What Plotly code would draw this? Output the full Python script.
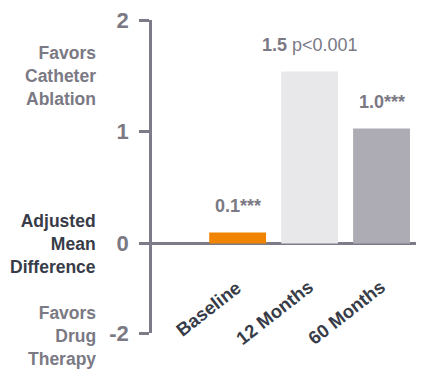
import plotly.graph_objects as go

categories = ["Baseline", "12 Months", "60 Months"]
values = [0.1, 1.54, 1.03]
value_labels = ["0.1", "1.5", "1.0"]
value_notes = ["***", " p<0.001", "***"]
note_bold = [True, False, True]
bar_colors = ["#f08300", "#e8e7ea", "#adacb4"]
tick_values = [2, 1, 0, -0.8]
tick_labels = ["2", "1", "0", "-2"]

GRAY = "#7a7984"
DARK = "#373c48"
FONT = "Liberation Sans, Arial, sans-serif"

xpos = list(range(len(categories)))

fig = go.Figure()
fig.add_trace(go.Bar(
    x=xpos, y=values, width=0.79,
    marker=dict(color=bar_colors, line=dict(width=0)),
    hoverinfo="skip",
))

annotations = []
for i, (v, lab, note, nb) in enumerate(zip(values, value_labels, value_notes, note_bold)):
    txt = f"<b>{lab}</b>" + (f"<b>{note}</b>" if nb else note)
    annotations.append(dict(
        x=i, y=v, xref="x", yref="y", text=txt, showarrow=False,
        yanchor="bottom", xanchor="center", yshift=14,
        font=dict(family=FONT, size=18, color=GRAY),
    ))

for i, cat in enumerate(categories):
    annotations.append(dict(
        x=i, y=0, xref="x", yref="y", text=f"<b>{cat}</b>", showarrow=False,
        textangle=-38, xanchor="right", yanchor="top", xshift=10, yshift=-30,
        font=dict(family=FONT, size=18.5, color=DARK),
    ))

side = [
    ("<b>Favors<br>Catheter<br>Ablation</b>", 1.5, 0, GRAY),
    ("<b>Adjusted<br>Mean<br>Difference</b>", 0, 0, DARK),
    ("<b>Favors<br>Drug<br>Therapy</b>", -0.8, -3, GRAY),
]
for txt, yv, ys, col in side:
    annotations.append(dict(
        x=0, xref="paper", y=yv, yref="y", text=txt, showarrow=False,
        xanchor="right", yanchor="middle", align="right", xshift=-54, yshift=ys,
        font=dict(family=FONT, size=17.5, color=col),
    ))

fig.update_layout(
    width=424, height=369,
    margin=dict(l=144, r=8, t=12, b=44, autoexpand=False),
    paper_bgcolor="white", plot_bgcolor="white",
    showlegend=False,
    annotations=annotations,
    xaxis=dict(range=[-1.19, 2.59], visible=False, fixedrange=True, automargin=False),
    yaxis=dict(
        range=[-0.8, 2], tickvals=tick_values, ticktext=tick_labels,
        showline=True, linecolor="#7c7b87", linewidth=2.5,
        ticks="outside", ticklen=10, tickwidth=2.5, tickcolor="#7c7b87",
        showgrid=False, zeroline=True, zerolinecolor="#7c7b87", zerolinewidth=3,
        tickfont=dict(family=FONT, size=22, color=GRAY, weight="bold"),
        ticklabelstandoff=6, ticklabeloverflow="allow", automargin=False,
    ),
)

fig.write_html("out.html")
